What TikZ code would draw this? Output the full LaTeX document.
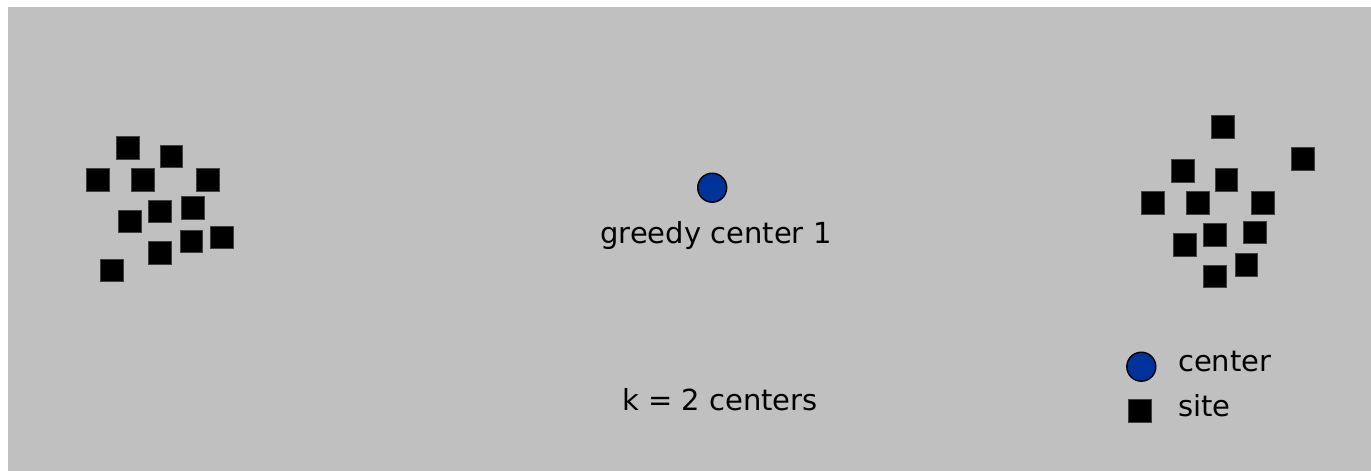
\documentclass[tikz,border=0pt]{standalone}
\usepackage{fontspec}
\setmainfont{DejaVu Sans}
\definecolor{bg}{RGB}{192,192,192}
\definecolor{centerblue}{RGB}{0,51,153}
\tikzset{
  sitebox/.style={rectangle, fill=black, draw=black!75, line width=0.6pt, minimum size=22.7pt, inner sep=0pt},
  centerdot/.style={circle, fill=centerblue, draw=black, line width=1.4pt, minimum size=29pt, inner sep=0pt},
  lbl/.style={inner sep=0pt, font=\fontsize{29}{34}\selectfont, text=black}
}
\begin{document}
\begin{tikzpicture}[x=1pt,y=-1pt]
\useasboundingbox (0,0) rectangle (1371,471);
\fill[bg] (8,7) rectangle (1371,471);
% left cluster
\node[sitebox] (l1) at (128,147.7) {};
\node[sitebox] (l2) at (171.3,156.3) {};
\node[sitebox] (l3) at (98,179.7) {};
\node[sitebox] (l4) at (143,179.7) {};
\node[sitebox] (l5) at (208,179.7) {};
\node[sitebox] (l6) at (159.7,211.3) {};
\node[sitebox] (l7) at (193,208) {};
\node[sitebox] (l8) at (129.7,221.3) {};
\node[sitebox] (l9) at (191.3,241.3) {};
\node[sitebox] (l10) at (222,237.3) {};
\node[sitebox] (l11) at (159.7,253) {};
\node[sitebox] (l12) at (112,270.3) {};
% right cluster
\node[sitebox] (r1) at (1223,127) {};
\node[sitebox] (r2) at (1303,159) {};
\node[sitebox] (r3) at (1183,171) {};
\node[sitebox] (r4) at (1226.3,179.7) {};
\node[sitebox] (r5) at (1153,203) {};
\node[sitebox] (r6) at (1198,203) {};
\node[sitebox] (r7) at (1263,203) {};
\node[sitebox] (r8) at (1214.7,234.7) {};
\node[sitebox] (r9) at (1254.7,232.3) {};
\node[sitebox] (r10) at (1184.7,244.7) {};
\node[sitebox] (r11) at (1246.3,264.7) {};
\node[sitebox] (r12) at (1214.7,276.3) {};
% greedy center
\node[centerdot] (c1) at (712.2,187.7) {};
\node[lbl, anchor=base] (c1lbl) at (716,243.3) {greedy center 1};
\node[lbl, anchor=base] (ktext) at (720,410) {k = 2 centers};
% legend
\node[centerdot] (legc) at (1141.3,366.7) {};
\node[lbl, anchor=base west] (legclbl) at (1178,371.7) {center};
\node[sitebox] (legs) at (1140,410.7) {};
\node[lbl, anchor=base west] (legslbl) at (1178,416.7) {site};
\end{tikzpicture}
\end{document}
